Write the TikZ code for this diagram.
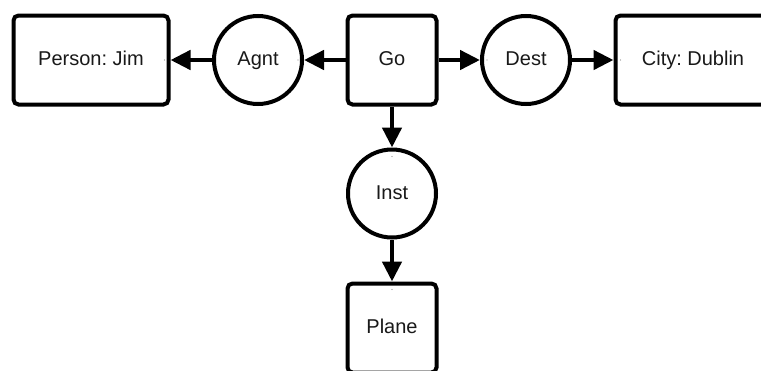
\documentclass[tikz,border=0pt]{standalone}
\usepackage{fontspec}
\setmainfont{Liberation Sans}
\usetikzlibrary{arrows.meta}
\frenchspacing
\begin{document}
\begin{tikzpicture}[x=1pt,y=-1pt,
  label text/.style={font=\fontsize{20}{23}\selectfont, text=black!90,
    text height=14.3pt, text depth=3pt},
  concept/.style={draw, line width=4pt, rounded corners=5pt, inner sep=0pt,
    minimum height=89pt, label text},
  widebox/.style={concept, minimum width=155pt},
  squarebox/.style={concept, minimum width=89pt},
  relation/.style={draw, circle, line width=4pt, inner sep=0pt,
    minimum size=88pt, label text},
  link/.style={line width=4.5pt, -{Triangle[length=20pt,width=19pt]}},
  pin/.style={fill=black!45}]
  \useasboundingbox (0,0) rectangle (761,370);
  \clip (0,0) rectangle (761,370);
  \fill[white] (0,0) rectangle (761,370);

  % concept and relation nodes
  \node[widebox]   (person) at (91,60)   {Person: Jim};
  \node[relation]  (agnt)   at (258,60)  {Agnt};
  \node[squarebox] (go)     at (392,60)  {Go};
  \node[relation]  (dest)   at (526,60)  {Dest};
  \node[widebox]   (city)   at (693,60)  {City: Dublin};
  \node[relation]  (inst)   at (392,193.5) {Inst};
  \node[squarebox] (plane)  at (392,328) {Plane};

  % connectors
  \draw[link] (go.west)    -- (agnt.east);
  \draw[link] (agnt.west)  -- (person.east);
  \draw[link] (go.east)    -- (dest.west);
  \draw[link] (dest.east)  -- (city.west);
  \draw[link] (go.south)   -- (inst.north);
  \draw[link] (inst.south) -- (plane.north);

  % small connection-point marks
  \fill[pin] ([xshift=-6pt]person.east) circle (0.7pt);
  \fill[pin] ([xshift=-6pt]agnt.east)   circle (0.7pt);
  \fill[pin] ([xshift=7pt]dest.west)    circle (0.7pt);
  \fill[pin] ([xshift=7pt]city.west)    circle (0.7pt);
  \fill[pin] ([yshift=-9pt]inst.north)  circle (0.7pt);
  \fill[pin] ([yshift=-8pt]plane.north) circle (0.7pt);
\end{tikzpicture}
\end{document}
